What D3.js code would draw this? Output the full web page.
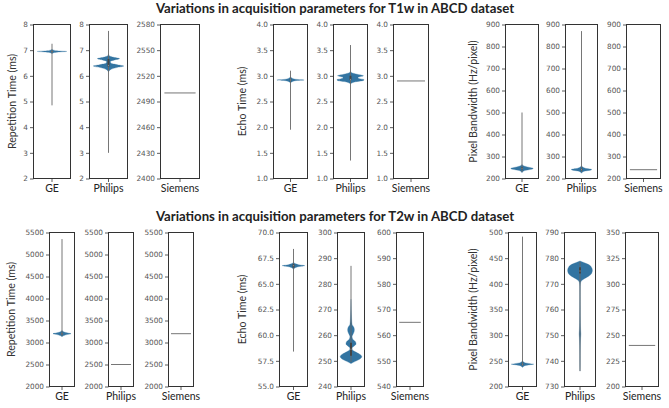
<!DOCTYPE html>
<html><head><meta charset="utf-8">
<script src="https://cdn.jsdelivr.net/npm/d3@7"></script>
<style>html,body{margin:0;padding:0;background:#fff;} svg{display:block}</style>
</head><body><svg id="c" width="669" height="408"></svg>
<script>
// ---------------- DATA ----------------
const vendors = ["GE", "Philips", "Siemens"];
const titles = [
  "Variations in acquisition parameters for T1w in ABCD dataset",
  "Variations in acquisition parameters for T2w in ABCD dataset"
];
const paramLabels = ["Repetition Time (ms)", "Echo Time (ms)", "Pixel Bandwidth (Hz/pixel)"];

// tick labels
const t1TRTicks = ["2", "3", "4", "5", "6", "7", "8"];
const t1TRSiemensTicks = ["2400", "2430", "2460", "2490", "2520", "2550", "2580"];
const t1TETicks = ["1.0", "1.5", "2.0", "2.5", "3.0", "3.5", "4.0"];
const t1BWTicks = ["200", "300", "400", "500", "600", "700", "800", "900"];
const t2TRTicks = ["2000", "2500", "3000", "3500", "4000", "4500", "5000", "5500"];
const t2TEGETicks = ["55.0", "57.5", "60.0", "62.5", "65.0", "67.5", "70.0"];
const t2TEPhilipsTicks = ["240", "250", "260", "270", "280", "290", "300"];
const t2TESiemensTicks = ["540", "550", "560", "570", "580", "590", "600"];
const t2BWGETicks = ["200", "250", "300", "350", "400", "450", "500"];
const t2BWPhilipsTicks = ["730", "740", "750", "760", "770", "780", "790"];
const t2BWSiemensTicks = ["200", "225", "250", "275", "300", "325", "350"];

// box stats: [min, q1, median, q3, max]
const t1TR_GE_stats = [4.85, 6.93, 6.95, 6.97, 7.25];
const t1TR_Philips_stats = [3.0, 6.36, 6.4, 6.66, 7.75];
const t1TE_GE_stats = [1.95, 2.91, 2.92, 2.93, 3.1];
const t1TE_Philips_stats = [1.35, 2.92, 2.93, 3.0, 3.6];
const t1BW_GE_stats = [230, 242, 246, 250, 500];
const t1BW_Philips_stats = [230, 238, 241, 244, 870];
const t2TR_GE_stats = [3150, 3190, 3200, 3210, 5350];
const t2TE_GE_stats = [58.4, 66.6, 66.77, 66.9, 68.4];
const t2TE_Philips_stats = [249.5, 252, 254.5, 257, 287];
const t2BW_GE_stats = [240, 242.5, 243.5, 244.5, 492];
const t2BW_Philips_stats = [736, 774, 775, 776.5, 778.5];

// single-value measurements
const t1TR_Siemens_value = 2500;
const t1TE_Siemens_value = 2.9;
const t1BW_Siemens_value = 240;
const t2TR_Philips_value = 2500;
const t2TR_Siemens_value = 3200;
const t2TE_Siemens_value = 565;
const t2BW_Siemens_value = 240;

// density profiles: [value, relative density width]
const t1TR_GE_density = [[6.86,0],[6.9,0.12],[6.93,0.45],[6.95,1],[6.97,0.45],[7.0,0.12],[7.04,0]];
const t1TR_Philips_density = [[6.15,0],[6.25,0.15],[6.33,0.6],[6.38,1],[6.43,0.6],[6.5,0.15],[6.56,0.12],[6.62,0.4],[6.67,0.72],[6.72,0.35],[6.78,0.05],[6.85,0]];
const t1TE_GE_density = [[2.86,0],[2.89,0.15],[2.91,0.5],[2.92,1],[2.93,0.5],[2.95,0.15],[2.98,0]];
const t1TE_Philips_density = [[2.84,0],[2.88,0.3],[2.91,0.95],[2.925,1],[2.95,0.6],[2.97,0.55],[3.0,0.95],[3.03,0.5],[3.06,0.1],[3.09,0]];
const t1BW_GE_density = [[226,0],[236,0.2],[242,0.7],[246,0.85],[250,0.6],[256,0.2],[264,0]];
const t1BW_Philips_density = [[224,0],[233,0.2],[238,0.7],[241,0.8],[245,0.4],[252,0.1],[258,0]];
const t2TR_GE_density = [[3130,0],[3160,0.2],[3185,0.6],[3200,0.9],[3215,0.6],[3240,0.2],[3270,0]];
const t2TE_GE_density = [[66.4,0],[66.6,0.2],[66.72,0.7],[66.77,1],[66.83,0.6],[66.95,0.2],[67.1,0]];
const t2TE_Philips_density = [[249,0.02],[249.8,0.4],[250.8,0.85],[251.7,1],[252.6,0.8],[253.5,0.4],[254.3,0.12],[255,0.1],[255.8,0.3],[256.6,0.47],[257.5,0.4],[258.5,0.15],[259.5,0.1],[260.5,0.2],[261.5,0.3],[262.3,0.31],[263.2,0.25],[264.2,0.1],[266,0.06],[268,0.04],[270,0.02],[274,0]];
const t2BW_GE_density = [[237,0],[240.5,0.2],[242.5,0.7],[243.5,1],[244.5,0.7],[246.5,0.2],[250,0]];
const t2BW_Philips_density = [[736,0],[738,0.01],[742,0.015],[746,0.025],[749,0.05],[750.5,0.07],[752,0.05],[755,0.03],[760,0.02],[765,0.015],[769,0.02],[770.5,0.05],[771.2,0.12],[772,0.35],[773,0.7],[774,0.93],[775.3,1],[776.5,0.92],[777.5,0.7],[778.3,0.3],[778.9,0]];

// ---------------- PANELS ----------------
const V = (stats, density) => ({stats, density});
const S = (value) => ({value});
const rows = [
  [
    {ticks: t1TRTicks, v: V(t1TR_GE_stats, t1TR_GE_density)},
    {ticks: t1TRTicks, v: V(t1TR_Philips_stats, t1TR_Philips_density)},
    {ticks: t1TRSiemensTicks, v: S(t1TR_Siemens_value)},
    {ticks: t1TETicks, v: V(t1TE_GE_stats, t1TE_GE_density)},
    {ticks: t1TETicks, v: V(t1TE_Philips_stats, t1TE_Philips_density)},
    {ticks: t1TETicks, v: S(t1TE_Siemens_value)},
    {ticks: t1BWTicks, v: V(t1BW_GE_stats, t1BW_GE_density)},
    {ticks: t1BWTicks, v: V(t1BW_Philips_stats, t1BW_Philips_density)},
    {ticks: t1BWTicks, v: S(t1BW_Siemens_value)}
  ],
  [
    {ticks: t2TRTicks, v: V(t2TR_GE_stats, t2TR_GE_density)},
    {ticks: t2TRTicks, v: S(t2TR_Philips_value)},
    {ticks: t2TRTicks, v: S(t2TR_Siemens_value)},
    {ticks: t2TEGETicks, v: V(t2TE_GE_stats, t2TE_GE_density)},
    {ticks: t2TEPhilipsTicks, v: V(t2TE_Philips_stats, t2TE_Philips_density)},
    {ticks: t2TESiemensTicks, v: S(t2TE_Siemens_value)},
    {ticks: t2BWGETicks, v: V(t2BW_GE_stats, t2BW_GE_density)},
    {ticks: t2BWPhilipsTicks, v: V(t2BW_Philips_stats, t2BW_Philips_density)},
    {ticks: t2BWSiemensTicks, v: S(t2BW_Siemens_value)}
  ]
];

// ---------------- LAYOUT ----------------
const rowY = [[24.5, 178.5], [232.5, 386.5]];
const titleY = [12.8, 220.5];
const panelX = [
  [[33.5,70.5],[89.5,127.5],[160.5,199.5],[273.5,307.5],[333.5,367.5],[393.5,428.5],[505.5,538.5],[565.5,597.5],[626.5,660.5]],
  [[49.5,74.5],[108.5,133.5],[168.5,193.5],[279.5,307.5],[337.5,364.5],[396.5,423.5],[508.5,536.5],[564.5,595.5],[625.5,658.5]]
];
const labelX = [[12, 242, 473], [11, 242, 473]];

const FILL = "#3274a1", GRAY = "#666", SPINE = "#333";
const svg = d3.select("#c");

rows.forEach((row, r) => {
  svg.append("text").attr("x", 335).attr("y", titleY[r]).attr("text-anchor", "middle")
    .attr("font-family", "Lato").attr("font-weight", "bold").attr("font-size", 13.2)
    .attr("fill", "#222").text(titles[r]);

  const [top, bottom] = rowY[r];
  paramLabels.forEach((lab, k) => {
    svg.append("text")
      .attr("transform", `translate(${labelX[r][k]},${(top + bottom) / 2}) rotate(-90)`)
      .attr("text-anchor", "middle").attr("dy", "0.35em")
      .attr("font-family", "Lato").attr("font-size", 10.6).attr("fill", "#333").text(lab);
  });

  row.forEach((p, i) => {
    const vendor = vendors[i % 3];
    const [left, right] = panelX[r][i];
    const tv = p.ticks.map(Number);
    const y = d3.scaleLinear().domain([tv[0], tv[tv.length - 1]]).range([bottom, top]);
    const x = d3.scaleBand().domain([vendor]).range([left, right]);
    const cx = x(vendor) + x.bandwidth() / 2;
    const hw = x.bandwidth() * 0.4;
    const g = svg.append("g");
    const clip = `clip-${r}-${i}`;
    g.append("clipPath").attr("id", clip).append("rect")
      .attr("x", left).attr("y", top).attr("width", right - left).attr("height", bottom - top);
    const body = g.append("g").attr("clip-path", `url(#${clip})`);

    if (p.v.density) {
      const area = d3.area()
        .y(d => y(d[0]))
        .x0(d => cx - d[1] * hw)
        .x1(d => cx + d[1] * hw)
        .curve(d3.curveMonotoneY);
      body.append("path").datum(p.v.density).attr("d", area)
        .attr("fill", FILL).attr("stroke", FILL).attr("stroke-width", 0.3);
      const [mn, q1, md, q3, mx] = p.v.stats;
      body.append("line").attr("x1", cx).attr("x2", cx).attr("y1", y(mn)).attr("y2", y(mx))
        .attr("stroke", GRAY).attr("stroke-width", 0.9);
      body.append("line").attr("x1", cx).attr("x2", cx).attr("y1", y(q1)).attr("y2", y(q3))
        .attr("stroke", "#444").attr("stroke-width", 2);
      body.append("circle").attr("cx", cx).attr("cy", y(md)).attr("r", 0.7).attr("fill", "#888");
    } else {
      body.append("line").attr("x1", cx - hw).attr("x2", cx + hw)
        .attr("y1", y(p.v.value)).attr("y2", y(p.v.value))
        .attr("stroke", GRAY).attr("stroke-width", 0.9);
    }

    g.append("rect").attr("x", left).attr("y", top).attr("width", right - left).attr("height", bottom - top)
      .attr("fill", "none").attr("stroke", SPINE).attr("stroke-width", 1);

    const ya = g.append("g").attr("transform", `translate(${left},0)`)
      .call(d3.axisLeft(y).tickValues(tv).tickFormat((d, j) => p.ticks[j]).tickSize(3.5).tickPadding(2));
    ya.select(".domain").remove();
    ya.selectAll("line").attr("stroke", SPINE).attr("stroke-width", 0.8);
    ya.selectAll("text").attr("font-family", "DejaVu Sans").attr("font-size", 7.3).attr("fill", "#555");

    const xa = g.append("g").attr("transform", `translate(0,${bottom})`)
      .call(d3.axisBottom(x).tickSize(3.5).tickPadding(3));
    xa.select(".domain").remove();
    xa.selectAll("line").attr("stroke", SPINE).attr("stroke-width", 0.8);
    xa.selectAll("text").attr("font-family", "Lato").attr("font-size", 10.5).attr("fill", "#222");
  });
});
</script></body></html>
